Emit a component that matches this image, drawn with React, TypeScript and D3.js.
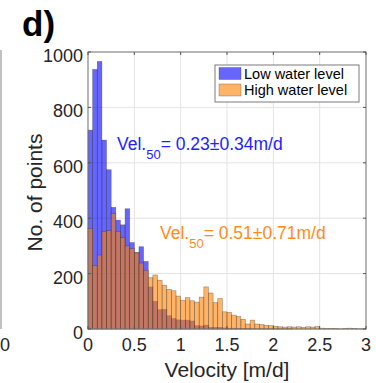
import React from "react";
import * as d3 from "d3";

// Histogram bins: 0.05 m/d wide, from 0 to 3 m/d
const binWidth = 0.05;
const lowWater = [
  718, 937, 966, 682, 575, 439, 393, 376, 434, 312,
  276, 297, 244, 152, 100, 70, 71, 48, 38, 33,
  32, 32, 29, 12, 11, 14, 6, 6, 6, 4,
  3, 3, 2, 2, 2, 1, 1, 1, 1, 1,
  1, 1, 1, 1, 0, 0, 0, 0, 0, 0,
  0, 0, 0, 0, 0, 0, 0, 0, 0, 0,
];
const highWater = [
  363, 229, 267, 352, 355, 417, 352, 330, 300, 290,
  275, 238, 212, 185, 195, 176, 158, 143, 138, 119,
  103, 113, 102, 97, 115, 152, 130, 95, 110, 62,
  60, 50, 45, 35, 18, 32, 18, 16, 13, 12,
  10, 8, 7, 8, 7, 8, 6, 8, 7, 9,
  3, 2, 2, 2, 1, 2, 3, 2, 1, 1,
];
const xTicks = [0, 0.5, 1, 1.5, 2, 2.5, 3];
const yTicks = [0, 200, 400, 600, 800, 1000];
const seriesNames = ["Low water level", "High water level"];

const FONT = "'Liberation Sans', Arial, Helvetica, sans-serif";
const BLUE = "#0000ff";
const ORANGE = "#ff8000";

export default function App() {
  const W = 376;
  const H = 383;
  const left = 88, right = 366, top = 52, bottom = 329;
  const x = d3.scaleLinear().domain([0, 3]).range([left, right]);
  const y = d3.scaleLinear().domain([0, 1000]).range([bottom, top]);

  const bars = (data: number[], color: string, key: string) =>
    data.map((v, i) => {
      if (v <= 0) return null;
      const x0 = x(i * binWidth);
      const x1 = x((i + 1) * binWidth);
      return (
        <rect
          key={key + i}
          x={x0}
          y={y(v)}
          width={x1 - x0}
          height={y(0) - y(v)}
          fill={color}
          fillOpacity={0.6}
          stroke="#262626"
          strokeOpacity={0.45}
          strokeWidth={0.6}
        />
      );
    });

  return (
    <div style={{ position: "fixed", left: 0, top: 0 }}>
      <svg width={W} height={H} style={{ display: "block", fontFamily: FONT }}>
        <rect x={0} y={0} width={W} height={H} fill="#fff" />
        {/* neighbouring panel remnants */}
        <line x1={1} x2={1} y1={50} y2={329} stroke="#9a9a9a" strokeWidth={1.2} />
        <text x={5} y={351} fontSize={18} fill="#262626" textAnchor="middle">0</text>

        {/* panel label */}
        <text x={22} y={36} fontSize={35} fontWeight="bold" fill="#000">d)</text>

        {/* grid */}
        {xTicks.map((t) => (
          <line key={"gx" + t} x1={x(t)} x2={x(t)} y1={top} y2={bottom} stroke="#e3e3e3" strokeWidth={1} />
        ))}
        {yTicks.map((t) => (
          <line key={"gy" + t} x1={left} x2={right} y1={y(t)} y2={y(t)} stroke="#e3e3e3" strokeWidth={1} />
        ))}

        {/* histograms */}
        {bars(lowWater, BLUE, "lw")}
        {bars(highWater, ORANGE, "hw")}

        {/* axes box */}
        <rect x={left} y={top} width={right - left} height={bottom - top} fill="none" stroke="#7a7a7a" strokeWidth={1} />
        {xTicks.map((t) => (
          <g key={"tx" + t}>
            <line x1={x(t)} x2={x(t)} y1={bottom} y2={bottom - 3} stroke="#555" />
            <line x1={x(t)} x2={x(t)} y1={top} y2={top + 3} stroke="#555" />
            <text x={x(t)} y={351} fontSize={18} fill="#262626" textAnchor="middle">
              {t}
            </text>
          </g>
        ))}
        {yTicks.map((t) => (
          <g key={"ty" + t}>
            <line x1={left} x2={left + 3} y1={y(t)} y2={y(t)} stroke="#555" />
            <line x1={right} x2={right - 3} y1={y(t)} y2={y(t)} stroke="#555" />
            <text x={83} y={y(t) + 10} fontSize={18} fill="#262626" textAnchor="end">
              {t}
            </text>
          </g>
        ))}

        {/* axis labels */}
        <text x={227} y={377} fontSize={21} fill="#262626" textAnchor="middle">
          Velocity [m/d]
        </text>
        <text
          transform={`translate(42,${(top + bottom) / 2 + 2}) rotate(-90)`}
          fontSize={21}
          fill="#262626"
          textAnchor="middle"
        >
          No. of points
        </text>

        {/* annotations */}
        <text x={117} y={150} fontSize={17.5} fill="#2222ff">
          Vel.<tspan dy={9} fontSize={13}>50</tspan>
          <tspan dy={-9}>= 0.23±0.34m/d</tspan>
        </text>
        <text x={160} y={239} fontSize={17.5} fill="#ff8c1a">
          Vel.<tspan dy={9} fontSize={13}>50</tspan>
          <tspan dy={-9}>= 0.51±0.71m/d</tspan>
        </text>

        {/* legend */}
        <rect x={215} y={65} width={144} height={37} fill="#fff" stroke="#7a7a7a" strokeWidth={1} />
        {seriesNames.map((name, i) => (
          <g key={name}>
            <rect
              x={219}
              y={67.5 + i * 16.5}
              width={22}
              height={12}
              fill={i === 0 ? BLUE : ORANGE}
              fillOpacity={0.6}
              stroke="#262626"
              strokeOpacity={0.45}
              strokeWidth={0.6}
            />
            <text x={244} y={78.5 + i * 16.5} fontSize={14.5} fill="#000">
              {name}
            </text>
          </g>
        ))}
      </svg>
    </div>
  );
}
